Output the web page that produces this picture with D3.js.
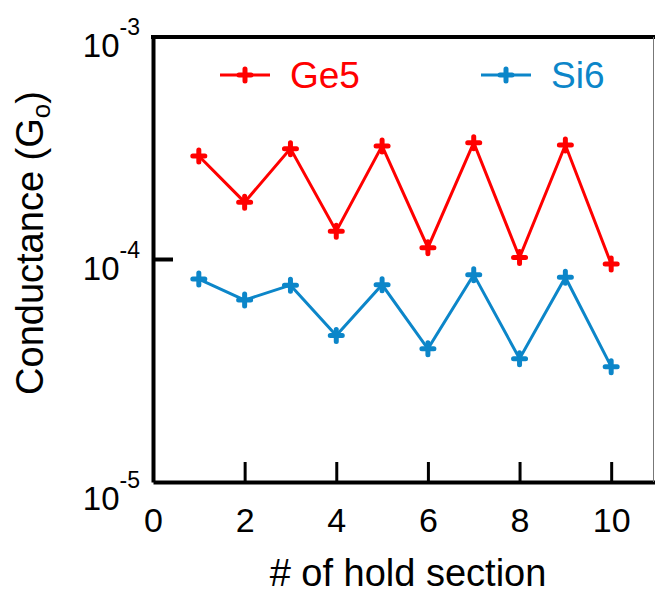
<!DOCTYPE html>
<html>
<head>
<meta charset="utf-8">
<script src="https://cdn.jsdelivr.net/npm/d3@7/dist/d3.min.js"></script>
<style>
  body { margin: 0; background: #fff; }
  text { font-family: "Liberation Sans", Arial, sans-serif; }
</style>
</head>
<body>
<svg id="chart"></svg>
<script>
// data
let sections = [1, 2, 3, 4, 5, 6, 7, 8, 9, 10];
let ge5 = [2.92e-4, 1.81e-4, 3.15e-4, 1.34e-4, 3.24e-4, 1.13e-4, 3.35e-4, 1.02e-4, 3.27e-4, 9.55e-5];
let si6 = [8.17e-5, 6.57e-5, 7.67e-5, 4.55e-5, 7.7e-5, 3.97e-5, 8.55e-5, 3.58e-5, 8.32e-5, 3.30e-5];
let xTicks = [0, 2, 4, 6, 8, 10];
let yTicks = [1e-5, 1e-4, 1e-3];
let yTickExp = ['-5', '-4', '-3'];
let seriesNames = ['Ge5', 'Si6'];
let seriesColors = ['#ff0000', '#0c86c9'];

function makeChart() {
  let w = 655;
  let h = 593;

  let marginT = 37;
  let marginL = 153;
  let marginR = -2;
  let marginB = 111;

  let chart = d3.select('#chart')
    .attr('width', w)
    .attr('height', h);

  let xScale = d3.scaleLinear()
    .domain([0, 11])
    .range([marginL, w - marginR]);

  let yScale = d3.scaleLog()
    .domain([1e-5, 1e-3])
    .range([h - marginB, marginT]);

  //lines + markers
  let line = d3.line()
    .x((d, i) => xScale(sections[i]))
    .y(d => yScale(d));

  let plus = 'M-6,0H6M0,-6V6';

  [ge5, si6].forEach(function (vals, k) {
    chart.append('path')
      .datum(vals)
      .attr('d', line)
      .attr('fill', 'none')
      .attr('stroke', seriesColors[k])
      .attr('stroke-width', 3);

    chart.selectAll('.m' + k)
      .data(vals)
      .enter()
      .append('path')
      .attr('class', 'm' + k)
      .attr('d', plus)
      .attr('transform', (d, i) => `translate(${xScale(sections[i])}, ${yScale(d)})`)
      .attr('stroke', seriesColors[k])
      .attr('stroke-width', 5)
      .attr('stroke-linecap', 'round');
  });

  //AXES
  let xAxis = d3.axisBottom(xScale)
    .tickValues(xTicks)
    .tickSize(-20)
    .tickPadding(26)
    .tickSizeOuter(0);

  let gx = chart.append('g')
    .attr('transform', `translate(0, ${h - marginB})`)
    .call(xAxis);
  gx.select('.domain').attr('stroke-width', 4).attr('stroke', '#000');
  gx.selectAll('.tick line').attr('stroke-width', 3).attr('stroke', '#000');
  gx.selectAll('.tick text')
    .attr('font-size', 34)
    .attr('fill', '#000')
    .attr('font-family', '"Liberation Sans", Arial, sans-serif');

  let yAxis = d3.axisLeft(yScale)
    .tickValues(yTicks)
    .tickSize(0)
    .tickFormat('');

  let gy = chart.append('g')
    .attr('transform', `translate(${marginL}, 0)`)
    .call(yAxis);
  gy.select('.domain').attr('stroke-width', 4).attr('stroke', '#000');

  // only the middle decade has a tick mark
  chart.append('line')
    .attr('x1', marginL)
    .attr('x2', marginL + 20)
    .attr('y1', yScale(yTicks[1]))
    .attr('y2', yScale(yTicks[1]))
    .attr('stroke', '#000')
    .attr('stroke-width', 4);

  //y tick labels 10^n
  let ylab = chart.selectAll('.ylab')
    .data(yTicks)
    .enter()
    .append('text')
    .attr('class', 'ylab')
    .attr('x', 116)
    .attr('y', (d, i) => yScale(d) + (i == 0 ? 28 : 20))
    .attr('text-anchor', 'end')
    .attr('font-size', 33)
    .attr('fill', '#000');
  ylab.append('tspan').text('10');
  ylab.append('tspan')
    .attr('font-size', 23)
    .attr('dy', -22)
    .text((d, i) => yTickExp[i]);
  ylab.attr('x', 140);

  //frame: top line thick, right edge thin
  chart.append('line')
    .attr('x1', marginL - 2)
    .attr('x2', w)
    .attr('y1', marginT)
    .attr('y2', marginT)
    .attr('stroke', '#000')
    .attr('stroke-width', 4);

  chart.append('line')
    .attr('x1', w - 1.5)
    .attr('x2', w - 1.5)
    .attr('y1', marginT)
    .attr('y2', h - marginB)
    .attr('stroke', '#777')
    .attr('stroke-width', 1);

  //LEGEND
  let legX = [245, 506];
  seriesNames.forEach(function (name, k) {
    chart.append('line')
      .attr('x1', legX[k] - 25)
      .attr('x2', legX[k] + 25)
      .attr('y1', 75)
      .attr('y2', 75)
      .attr('stroke', seriesColors[k])
      .attr('stroke-width', 3);
    chart.append('path')
      .attr('d', plus)
      .attr('transform', `translate(${legX[k]}, 75)`)
      .attr('stroke', seriesColors[k])
      .attr('stroke-width', 5)
      .attr('stroke-linecap', 'round');
    chart.append('text')
      .attr('x', legX[k] + 45)
      .attr('y', 88)
      .attr('font-size', 37)
      .attr('fill', seriesColors[k])
      .text(name);
  });

  //LABELS
  chart.append('text')
    .attr('x', 408)
    .attr('y', 586)
    .attr('text-anchor', 'middle')
    .attr('font-size', 38)
    .attr('fill', '#000')
    .text('# of hold section');

  let yl = chart.append('text')
    .attr('transform', 'translate(43, 243) rotate(-90)')
    .attr('text-anchor', 'middle')
    .attr('font-size', 38)
    .attr('fill', '#000');
  yl.append('tspan').text('Conductance (G');
  yl.append('tspan').attr('font-size', 26).attr('dy', 7).text('o');
  yl.append('tspan').attr('dy', -7).text(')');
}

makeChart();
</script>
</body>
</html>
